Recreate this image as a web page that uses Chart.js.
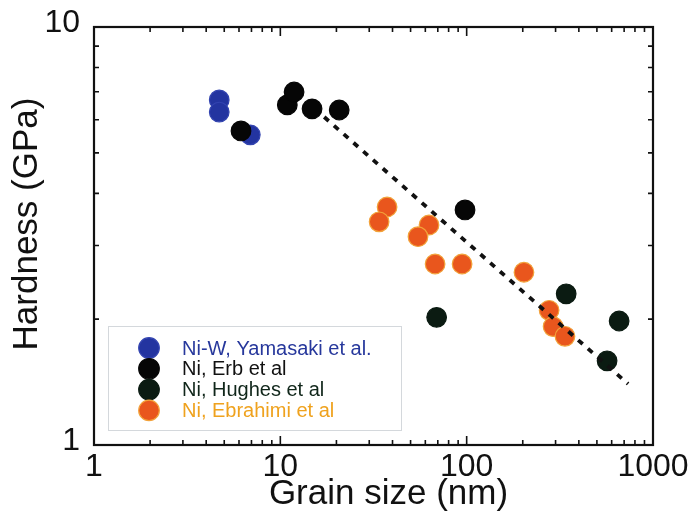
<!DOCTYPE html>
<html>
<head>
<meta charset="utf-8">
<script src="https://cdn.jsdelivr.net/npm/chart.js@4.4.1/dist/chart.umd.min.js"></script>
<style>
  html, body { margin: 0; padding: 0; background: #ffffff; }
  #c { display: block; }
</style>
</head>
<body>
<canvas id="c" width="697" height="516"></canvas>
<script>
// Hardness vs grain size (log-log), four data sources plus a dashed trend line
const seriesNames = [
  'Ni-W, Yamasaki et al.',
  'Ni, Erb et al',
  'Ni, Hughes et al',
  'Ni, Ebrahimi et al'
];

const yamasakiSize = [4.7, 4.7, 6.9];
const yamasakiHardness = [6.69, 6.26, 5.52];

const erbSize = [6.15, 10.9, 11.85, 14.8, 20.7, 98];
const erbHardness = [5.64, 6.51, 6.99, 6.37, 6.33, 3.65];

const hughesSize = [69, 342, 567, 658];
const hughesHardness = [2.02, 2.30, 1.59, 1.98];

const ebrahimiSize = [37.4, 33.9, 62.8, 54.8, 67.7, 94.5, 203, 277, 291, 337];
const ebrahimiHardness = [3.71, 3.42, 3.36, 3.15, 2.71, 2.71, 2.59, 2.10, 1.92, 1.82];

const trendSize = [17.2, 735];
const trendHardness = [6.09, 1.40];

const xMajorTicks = [1, 10, 100, 1000];
const yMajorTicks = [1, 10];
const minorSteps = [2, 3, 4, 5, 6, 7, 8, 9];

const xTitle = 'Grain size (nm)';
const yTitle = 'Hardness (GPa)';

const FONT = '"Liberation Sans", Arial, Helvetica, sans-serif';

function pairs(xs, ys) {
  return xs.map((x, i) => ({ x: x, y: ys[i] }));
}

const colors = {
  yamasaki: '#2334a0',
  erb: '#060606',
  hughes: '#0b1b12',
  ebrahimi: '#e9561d'
};
const textColors = ['#27389c', '#111111', '#10261a', '#efa21e'];
const markerFill = [colors.yamasaki, colors.erb, colors.hughes, colors.ebrahimi];
const markerRim = ['#3344b0', '#060606', '#0b1b12', '#f2a23a'];

function minorValues(majors) {
  const out = [];
  for (let i = 0; i < majors.length - 1; i++) {
    minorSteps.forEach(m => out.push(majors[i] * m));
  }
  return out;
}

// Closed frame with inward major/minor ticks on all four sides
const framePlugin = {
  id: 'frameTicks',
  afterDatasetsDraw(chart) {
    const { ctx, chartArea: a, scales } = chart;
    const xs = scales.x, ys = scales.y;
    ctx.save();
    ctx.strokeStyle = '#111111';
    ctx.lineCap = 'butt';
    ctx.lineWidth = 1.6;
    const tick = (v, len, axis) => {
      if (axis === 'x') {
        const p = xs.getPixelForValue(v);
        ctx.beginPath();
        ctx.moveTo(p, a.bottom); ctx.lineTo(p, a.bottom - len);
        ctx.moveTo(p, a.top); ctx.lineTo(p, a.top + len);
        ctx.stroke();
      } else {
        const p = ys.getPixelForValue(v);
        ctx.beginPath();
        ctx.moveTo(a.left, p); ctx.lineTo(a.left + len, p);
        ctx.moveTo(a.right, p); ctx.lineTo(a.right - len, p);
        ctx.stroke();
      }
    };
    minorValues(xMajorTicks).forEach(v => tick(v, 5, 'x'));
    xMajorTicks.forEach(v => tick(v, 9, 'x'));
    minorValues(yMajorTicks).forEach(v => tick(v, 5, 'y'));
    yMajorTicks.forEach(v => tick(v, 9, 'y'));
    ctx.lineWidth = 2.2;
    ctx.strokeRect(a.left, a.top, a.right - a.left, a.bottom - a.top);
    ctx.restore();
  }
};

// Axis titles
const titlePlugin = {
  id: 'axisTitles',
  afterDraw(chart) {
    const { ctx, chartArea: a } = chart;
    ctx.save();
    ctx.fillStyle = '#111111';
    ctx.font = '35px ' + FONT;
    ctx.textAlign = 'center';
    ctx.textBaseline = 'middle';
    ctx.fillText(xTitle, (a.left + a.right) / 2 + 15, a.bottom + 49);
    ctx.translate(27, (a.top + a.bottom) / 2 - 12);
    ctx.rotate(-Math.PI / 2);
    ctx.fillText(yTitle, 0, 0);
    ctx.restore();
  }
};

// Boxed legend inside the lower-left of the plot
const legendPlugin = {
  id: 'boxedLegend',
  afterDraw(chart) {
    const { ctx, chartArea: a } = chart;
    const left = a.left + 14, top = a.bottom - 119;
    const w = 293, h = 104;
    ctx.save();
    ctx.fillStyle = '#ffffff';
    ctx.fillRect(left, top, w, h);
    ctx.strokeStyle = '#d4d8dc';
    ctx.lineWidth = 1;
    ctx.strokeRect(left + 0.5, top + 0.5, w, h);
    ctx.font = '20px ' + FONT;
    ctx.textAlign = 'left';
    ctx.textBaseline = 'middle';
    seriesNames.forEach((name, i) => {
      const cy = top + 22 + i * 20.8;
      ctx.beginPath();
      ctx.arc(left + 41, cy, 10.3, 0, Math.PI * 2);
      ctx.fillStyle = markerFill[i];
      ctx.fill();
      ctx.lineWidth = 1.2;
      ctx.strokeStyle = markerRim[i];
      ctx.stroke();
      ctx.fillStyle = textColors[i];
      ctx.fillText(name, left + 74, cy + 1);
    });
    ctx.restore();
  }
};

const pointStyle = (fill, rim, order) => ({
  backgroundColor: fill,
  borderColor: rim,
  borderWidth: 1.2,
  pointRadius: 9.8,
  pointHoverRadius: 9.8,
  order: order
});

new Chart(document.getElementById('c'), {
  type: 'scatter',
  data: {
    datasets: [
      Object.assign({ label: seriesNames[0], data: pairs(yamasakiSize, yamasakiHardness) },
        pointStyle(colors.yamasaki, markerRim[0], 4)),
      Object.assign({ label: seriesNames[1], data: pairs(erbSize, erbHardness) },
        pointStyle(colors.erb, markerRim[1], 2)),
      Object.assign({ label: seriesNames[2], data: pairs(hughesSize, hughesHardness) },
        pointStyle(colors.hughes, markerRim[2], 1)),
      Object.assign({ label: seriesNames[3], data: pairs(ebrahimiSize, ebrahimiHardness) },
        pointStyle(colors.ebrahimi, markerRim[3], 3)),
      {
        type: 'line',
        label: 'trend',
        data: pairs(trendSize, trendHardness),
        borderColor: '#111111',
        borderWidth: 3.8,
        borderDash: [6, 7],
        pointRadius: 0,
        fill: false,
        order: 0
      }
    ]
  },
  options: {
    responsive: false,
    animation: false,
    events: [],
    layout: { padding: { top: 27, right: 44, left: 0, bottom: 0 } },
    plugins: {
      legend: { display: false },
      tooltip: { enabled: false },
      title: { display: false }
    },
    scales: {
      x: {
        type: 'logarithmic',
        min: 1,
        max: 1000,
        grid: { display: false, drawTicks: false },
        border: { display: false },
        afterBuildTicks(scale) { scale.ticks = xMajorTicks.map(v => ({ value: v })); },
        afterFit(scale) { scale.height = 71; scale.paddingLeft = 0; scale.paddingRight = 0; },
        ticks: {
          color: '#111111',
          font: { family: FONT, size: 32 },
          padding: 3,
          maxRotation: 0,
          autoSkip: false,
          callback: v => String(v)
        }
      },
      y: {
        type: 'logarithmic',
        min: 1,
        max: 10,
        grid: { display: false, drawTicks: false },
        border: { display: false },
        afterBuildTicks(scale) { scale.ticks = yMajorTicks.map(v => ({ value: v })); },
        afterFit(scale) { scale.width = 94; scale.paddingTop = 0; scale.paddingBottom = 0; },
        ticks: {
          color: '#111111',
          font: { family: FONT, size: 32 },
          padding: 14,
          labelOffset: -4,
          autoSkip: false,
          callback: v => String(v)
        }
      }
    }
  },
  plugins: [framePlugin, legendPlugin, titlePlugin]
});
</script>
</body>
</html>
